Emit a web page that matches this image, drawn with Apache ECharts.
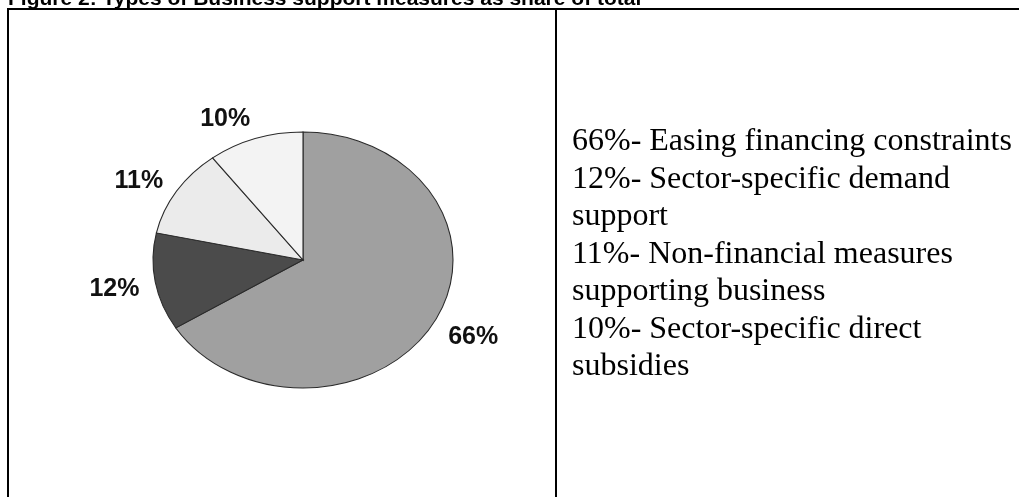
<!DOCTYPE html>
<html>
<head>
<meta charset="utf-8">
<script src="https://cdn.jsdelivr.net/npm/echarts@6/dist/echarts.min.js"></script>
<style>
    html, body { margin: 0; padding: 0; background: #fff; }
    #chart { width: 1019px; height: 497px; }
</style>
</head>
<body>
<div id="chart"></div>
<script>
// shares (printed labels are rounded)
var categories = [
    'Easing financing constraints',
    'Sector-specific demand support',
    'Non-financial measures supporting business',
    'Sector-specific direct subsidies'
];
var values = [66.1, 12.3, 11.3, 10.3];
var captionText = 'Figure 2: Types of Business support measures as share of total';

var sliceColors = ['#a0a0a0', '#4b4b4b', '#ebebeb', '#f3f3f3'];

// pie geometry (ellipse as in the original)
var CX = 303, CY = 260, RX = 150, RY = 128;
var GAP_X = 16, GAP_Y = 24, LABEL_DY = 3;

function pct(v) {
    return Math.round(v) + '%';
}

var total = values.reduce(function (a, b) { return a + b; }, 0);

function renderSlice(params, api) {
    var i = params.dataIndex;
    var before = 0;
    for (var k = 0; k < i; k++) before += values[k];
    var a0 = -Math.PI / 2 + 2 * Math.PI * before / total;
    var a1 = a0 + 2 * Math.PI * api.value(0) / total;
    var mid = (a0 + a1) / 2;
    var dx = Math.cos(mid), dy = Math.sin(mid);
    return {
        type: 'group',
        children: [
            {
                type: 'sector',
                shape: { cx: CX, cy: CY, r0: 0, r: RX, startAngle: a0, endAngle: a1, clockwise: true },
                originX: CX,
                originY: CY,
                scaleY: RY / RX,
                style: { fill: sliceColors[i], stroke: '#2a2a2a', lineWidth: 1.1 }
            },
            {
                type: 'text',
                x: CX + (RX + GAP_X) * dx,
                y: CY + (RY + GAP_Y) * dy + LABEL_DY,
                style: {
                    text: pct(api.value(0)),
                    font: 'bold 25px "Liberation Sans", Arial, sans-serif',
                    fill: '#111',
                    align: dx < 0 ? 'right' : 'left',
                    verticalAlign: 'middle'
                }
            }
        ]
    };
}

var legendText = categories.map(function (name, i) {
    return pct(values[i]) + '- ' + name;
}).join('\n');

var chart = echarts.init(document.getElementById('chart'), null, { renderer: 'canvas' });

chart.setOption({
    animation: false,
    backgroundColor: '#fff',
    graphic: [
        // caption, cut off at the top of the picture
        {
            type: 'text', x: 8, y: 10,
            style: {
                text: captionText,
                font: 'bold 21px "Liberation Sans", Arial, sans-serif',
                fill: '#000',
                verticalAlign: 'bottom'
            }
        },
        // table borders
        { type: 'line', shape: { x1: 7, y1: 9, x2: 1019, y2: 9 }, style: { stroke: '#000', lineWidth: 2 } },
        { type: 'line', shape: { x1: 8, y1: 9, x2: 8, y2: 497 }, style: { stroke: '#000', lineWidth: 2 } },
        { type: 'line', shape: { x1: 556, y1: 9, x2: 556, y2: 497 }, style: { stroke: '#000', lineWidth: 2 } },
        // text legend in the right cell
        {
            type: 'text', x: 572, y: 123,
            style: {
                text: legendText,
                font: '32px "Liberation Serif", "Times New Roman", serif',
                fill: '#000',
                lineHeight: 37.5,
                width: 450,
                overflow: 'break'
            }
        }
    ],
    series: [
        {
            type: 'custom',
            coordinateSystem: 'none',
            renderItem: renderSlice,
            data: values
        }
    ]
});
</script>
</body>
</html>
